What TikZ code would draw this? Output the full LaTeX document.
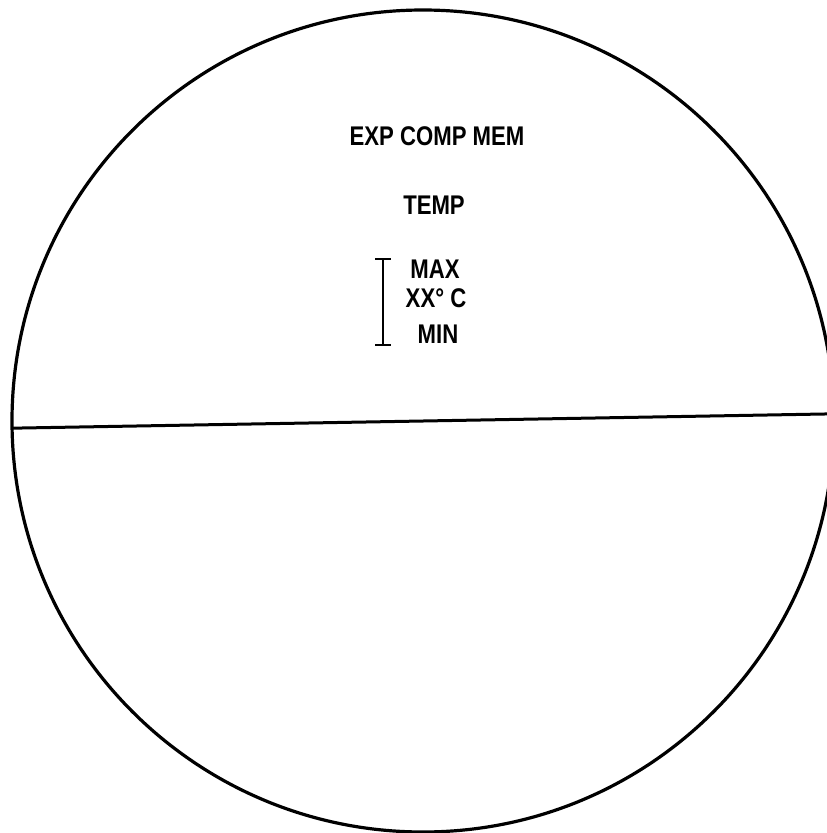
\documentclass[tikz,border=0pt]{standalone}
\usepackage{fontspec}
\setmainfont{Liberation Sans}[FakeStretch=0.82]
\usetikzlibrary{positioning}

\begin{document}
\begin{tikzpicture}[
  x=1pt, y=-1pt,
  dial/.style={circle, draw, line width=3.2pt, minimum size=822pt, inner sep=0pt, outer sep=0pt},
  caption/.style={font=\fontsize{27}{30}\bfseries\selectfont, inner sep=0pt},
  line width=3pt
]
\useasboundingbox (0,0) rectangle (827,833);
\clip (0,0) rectangle (827,833);

\node[dial] (face) at (423,421) {};
\draw (face.181.3) -- (face.1.3);

\node[caption] (title) at (437,136) {EXP COMP MEM};
\node[caption] (temp) at (434,205) {TEMP};
\node[caption] (max) at (435,269) {MAX};
\node[caption] (value) at (436,298) {XX° C};
\node[caption] (min) at (438,334) {MIN};

\coordinate (bartop) at (383,259);
\coordinate (barbot) at (383,345);
\draw[line width=2.4pt] (bartop) -- (barbot);
\draw[line width=2.4pt] ([xshift=-8pt]bartop) -- ([xshift=8pt]bartop);
\draw[line width=2.4pt] ([xshift=-8pt]barbot) -- ([xshift=8pt]barbot);

\end{tikzpicture}
\end{document}
